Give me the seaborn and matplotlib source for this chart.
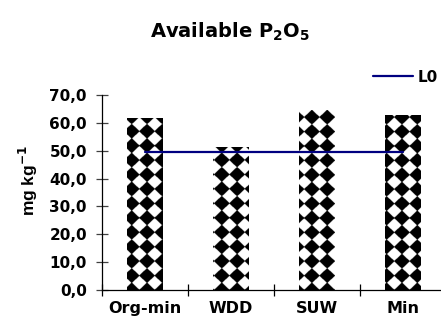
import numpy as np
import pandas as pd
import matplotlib
matplotlib.use("Agg")
import matplotlib.pyplot as plt
import seaborn as sns

# Data
categories = ["Org-min", "WDD", "SUW", "Min"]
p2o5 = [61.6, 51.5, 64.6, 62.8]
l0 = [49.6, 49.6, 49.6, 49.6]
ytick_values = [0, 10, 20, 30, 40, 50, 60, 70]
ytick_labels = ["0,0", "10,0", "20,0", "30,0", "40,0", "50,0", "60,0", "70,0"]

sns.set_theme(style="white")
plt.rcParams["font.family"] = ["DejaVu Sans"]
plt.rcParams["mathtext.fontset"] = "dejavusans"
for key in ["text.color", "axes.labelcolor", "xtick.color", "ytick.color"]:
    plt.rcParams[key] = "black"

W, H, DPI = 441, 329, 100
fig = plt.figure(figsize=(W / DPI, H / DPI), dpi=DPI)
fig.patch.set_facecolor("white")

ax_l, ax_b, ax_w, ax_h = 102, 39, 344, 195
ax = fig.add_axes([ax_l / W, ax_b / H, ax_w / W, ax_h / H])
ax.set_facecolor("white")

df = pd.DataFrame({"treatment": categories, "value": p2o5})
sns.barplot(data=df, x="treatment", y="value", color="white", width=0.41,
            edgecolor="none", linewidth=0, saturation=1, ax=ax, zorder=2)

# diamond checkerboard fill, defined in axes pixel space and clipped to each bar
xlim, ylim = (-0.5, 3.5), (0, 70)
k = 4
xs = (np.arange(ax_w * k) + 0.5) / k
ys = (np.arange(ax_h * k) + 0.5) / k
X, Y = np.meshgrid(xs, ys)
sx, sy = 15.0, 14.4
dx = np.mod(X - 30 + sx / 2, sx) - sx / 2
dy = np.mod(Y + sy / 2, sy) - sy / 2
pattern = np.where(np.abs(dx) / (sx / 2) + np.abs(dy) / (sy / 2) < 1.04, 0.0, 1.0)

for patch in ax.patches:
    im = ax.imshow(pattern, cmap="gray", vmin=0, vmax=1, origin="lower",
                   extent=[xlim[0], xlim[1], ylim[0], ylim[1]], aspect="auto",
                   interpolation="antialiased", zorder=2.5)
    im.set_clip_path(patch)

sns.lineplot(x=categories, y=l0, ax=ax, color="#000080", linewidth=1.6,
             label="L0", zorder=4)

ax.set_xlim(*xlim)
ax.set_ylim(*ylim)
ax.set_xlabel("")
ax.set_ylabel("")

for side in ["top", "right"]:
    ax.spines[side].set_visible(False)
for side in ["left", "bottom"]:
    ax.spines[side].set_color("black")
    ax.spines[side].set_linewidth(0.9)

ax.set_yticks(ytick_values)
ax.set_yticklabels(ytick_labels, fontsize=11, fontweight="bold")
ax.tick_params(axis="y", which="major", direction="inout", length=8, width=0.9,
               color="#404040", labelcolor="black", pad=6.8, left=True)

ax.set_xticks(range(len(categories)))
ax.set_xticklabels(categories, fontsize=11.5, fontweight="bold")
ax.set_xticks([-0.5, 0.5, 1.5, 2.5, 3.5], minor=True)
ax.tick_params(axis="x", which="major", length=0, pad=8, labelcolor="black")
ax.tick_params(axis="x", which="minor", direction="inout", length=8, width=0.9,
               color="black", bottom=True)

leg = ax.legend(loc="center left", bbox_to_anchor=(373 / W, 1 - 77 / H),
                bbox_transform=fig.transFigure, frameon=False, borderpad=0,
                borderaxespad=0, handlelength=2.6, handletextpad=0.3,
                prop={"weight": "bold", "size": 11})
for t in leg.get_texts():
    t.set_color("black")

fig.text(230 / W, 1 - 32 / H, r"Available P$_\mathbf{2}$O$_\mathbf{5}$",
         ha="center", va="center", fontsize=14, fontweight="bold", color="black")
fig.text(28 / W, 1 - 180 / H, r"mg kg$^{\mathbf{-1}}$", rotation=90,
         ha="center", va="center", fontsize=12.5, fontweight="bold", color="black",
         family=["Liberation Sans", "DejaVu Sans"])

fig.savefig("out.png", dpi=DPI)
